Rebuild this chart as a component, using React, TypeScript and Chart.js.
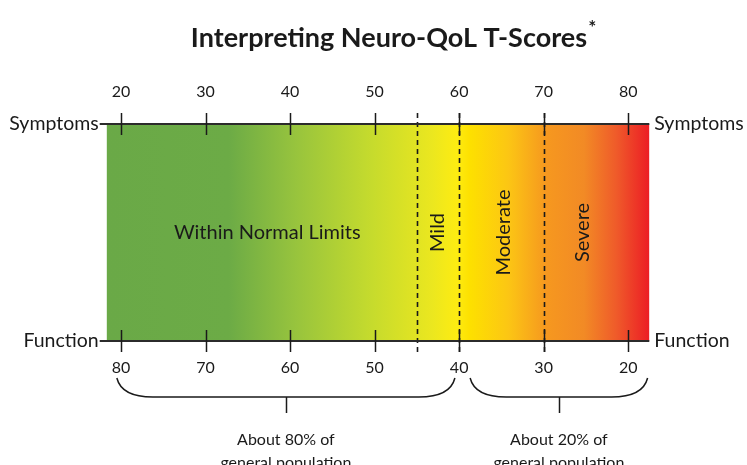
import React, { useEffect, useRef } from "react";
import { Chart, registerables } from "chart.js";

Chart.register(...registerables);

// ---- data ----
const TITLE = "Interpreting Neuro-QoL T-Scores";
const TITLE_MARK = "*";
const symptomTicks = [20, 30, 40, 50, 60, 70, 80];
const functionTicks = [80, 70, 60, 50, 40, 30, 20];
const scaleRange = [18.3, 82.5];
const cutoffs = [55, 60, 70];
const zoneLabels = ["Within Normal Limits", "Mild", "Moderate", "Severe"];
const zoneCenters = [37.3, 57.4, 65.2, 74.6];
const zoneVertical = [false, true, true, true];
const sideLabels = ["Symptoms", "Function"];
const groupLabels = [
  ["About 80% of", "general population"],
  ["About 20% of", "general population"],
];
const groupFrom = [19.5, 61.3];
const groupTo = [59.5, 82.3];

// ---- styles ----
const FONT = "Lato, 'Open Sans', sans-serif";
const INK = "#1a1a1a";
const GRADIENT: [number, string][] = [
  [0, "#6aa947"],
  [0.225, "#6cab46"],
  [0.35, "#98c43d"],
  [0.48, "#c3da2e"],
  [0.6, "#ebe71f"],
  [0.645, "#fdec12"],
  [0.67, "#fde000"],
  [0.74, "#fcc614"],
  [0.81, "#f6981f"],
  [0.88, "#f28a25"],
  [0.94, "#ef5a2a"],
  [1, "#ec1d25"],
];

const overlayPlugin = {
  id: "overlay",
  afterDatasetsDraw(chart: any) {
    const { ctx, chartArea } = chart;
    const xs = chart.scales.x;
    const { top, bottom, left, right } = chartArea;
    ctx.save();

    // cut-off dashed lines
    ctx.strokeStyle = INK;
    ctx.lineWidth = 1.6;
    ctx.setLineDash([5, 4]);
    cutoffs.forEach((v) => {
      const x = Math.round(xs.getPixelForValue(v)) + 0.5;
      ctx.beginPath();
      ctx.moveTo(x, top - 11);
      ctx.lineTo(x, bottom + 11);
      ctx.stroke();
    });
    ctx.setLineDash([]);

    // axis lines
    ctx.strokeStyle = "#2b2b2b";
    ctx.lineWidth = 2;
    [top, bottom].forEach((y) => {
      ctx.beginPath();
      ctx.moveTo(left - 7, y);
      ctx.lineTo(right, y);
      ctx.stroke();
    });

    // tick marks crossing the lines
    ctx.strokeStyle = INK;
    ctx.lineWidth = 1.5;
    xs.ticks.forEach((t: any) => {
      const x = Math.round(xs.getPixelForValue(t.value)) + 0.5;
      [top, bottom].forEach((y) => {
        ctx.beginPath();
        ctx.moveTo(x, y - 11);
        ctx.lineTo(x, y + 11);
        ctx.stroke();
      });
    });

    // zone labels
    ctx.fillStyle = INK;
    ctx.font = `20px ${FONT}`;
    ctx.textAlign = "center";
    ctx.textBaseline = "middle";
    const midY = (top + bottom) / 2;
    zoneLabels.forEach((label, i) => {
      const x = xs.getPixelForValue(zoneCenters[i]);
      ctx.save();
      ctx.translate(x, midY);
      if (zoneVertical[i]) ctx.rotate(-Math.PI / 2);
      ctx.fillText(label, 0, 0);
      ctx.restore();
    });

    // side labels
    ctx.font = `19.5px ${FONT}`;
    [top, bottom].forEach((y, i) => {
      ctx.textAlign = "right";
      ctx.fillText(sideLabels[i], left - 8, y);
      ctx.textAlign = "left";
      ctx.fillText(sideLabels[i], right + 5, y);
    });

    // braces
    const yTop = bottom + 37;
    const yMid = bottom + 56;
    ctx.strokeStyle = INK;
    ctx.lineWidth = 1.5;
    groupLabels.forEach((lines, i) => {
      const x1 = xs.getPixelForValue(groupFrom[i]);
      const x2 = xs.getPixelForValue(groupTo[i]);
      const xm = (x1 + x2) / 2;
      ctx.beginPath();
      ctx.moveTo(x1, yTop);
      ctx.bezierCurveTo(x1 + 3, yTop + 12, x1 + 14, yMid, x1 + 36, yMid);
      ctx.lineTo(x2 - 36, yMid);
      ctx.bezierCurveTo(x2 - 14, yMid, x2 - 3, yTop + 12, x2, yTop);
      ctx.stroke();
      ctx.beginPath();
      ctx.moveTo(Math.round(xm) + 0.5, yMid);
      ctx.lineTo(Math.round(xm) + 0.5, yMid + 16);
      ctx.stroke();
      ctx.font = `16px ${FONT}`;
      ctx.textAlign = "center";
      ctx.textBaseline = "middle";
      lines.forEach((t, j) => ctx.fillText(t, xm, bottom + 99 + j * 23));
    });

    // title
    ctx.font = `bold 27px ${FONT}`;
    ctx.textAlign = "center";
    ctx.textBaseline = "middle";
    const cx = 389;
    ctx.fillText(TITLE, cx, 38);
    const w = ctx.measureText(TITLE).width;
    ctx.font = `bold 19px ${FONT}`;
    ctx.textAlign = "left";
    ctx.fillText(TITLE_MARK, cx + w / 2 + 1, 28);

    ctx.restore();
  },
};

function makeGradient(context: any) {
  const chart = context.chart;
  const area = chart.chartArea;
  if (!area) return "#6aa947";
  const g = chart.ctx.createLinearGradient(area.left, 0, area.right, 0);
  GRADIENT.forEach(([p, c]) => g.addColorStop(p, c));
  return g;
}

export default function App() {
  const ref = useRef<HTMLCanvasElement | null>(null);
  useEffect(() => {
    document.body.style.margin = "0";
    const canvas = ref.current;
    if (!canvas) return;
    const setTicks = (scale: any) => {
      scale.ticks = symptomTicks.map((v) => ({ value: v }));
    };
    const chart = new Chart(canvas, {
      type: "bar",
      data: {
        labels: ["T-Score"],
        datasets: [
          {
            data: [[scaleRange[0], scaleRange[1]]] as any,
            backgroundColor: makeGradient as any,
            borderWidth: 0,
            barPercentage: 1,
            categoryPercentage: 1,
          },
        ],
      },
      options: {
        indexAxis: "y",
        animation: false,
        responsive: true,
        maintainAspectRatio: false,
        layout: { padding: { left: 106.7, right: 97.7, top: 0, bottom: 0 } },
        plugins: { legend: { display: false }, tooltip: { enabled: false }, title: { display: false } },
        scales: {
          x: {
            type: "linear",
            position: "bottom",
            min: scaleRange[0],
            max: scaleRange[1],
            grid: { display: false, drawTicks: false, tickLength: 0 },
            border: { display: false },
            afterBuildTicks: setTicks,
            afterFit: (s: any) => {
              s.height = 124;
            },
            ticks: {
              autoSkip: false,
              maxRotation: 0,
              padding: 17.4,
              color: INK,
              font: { family: FONT, size: 16 },
              callback: (_v: any, i: number) => String(functionTicks[i]),
            },
          },
          x2: {
            type: "linear",
            position: "top",
            min: scaleRange[0],
            max: scaleRange[1],
            grid: { display: false, drawTicks: false, tickLength: 0 },
            border: { display: false },
            afterBuildTicks: setTicks,
            afterFit: (s: any) => {
              s.height = 124;
            },
            ticks: {
              autoSkip: false,
              maxRotation: 0,
              padding: 22.4,
              color: INK,
              font: { family: FONT, size: 16 },
              callback: (_v: any, i: number) => String(symptomTicks[i]),
            },
          },
          y: { display: false },
        },
      } as any,
      plugins: [overlayPlugin],
    });
    return () => chart.destroy();
  }, []);
  return (
    <div style={{ position: "fixed", left: 0, top: 0, width: 747, height: 465 }}>
      <canvas ref={ref} />
    </div>
  );
}
